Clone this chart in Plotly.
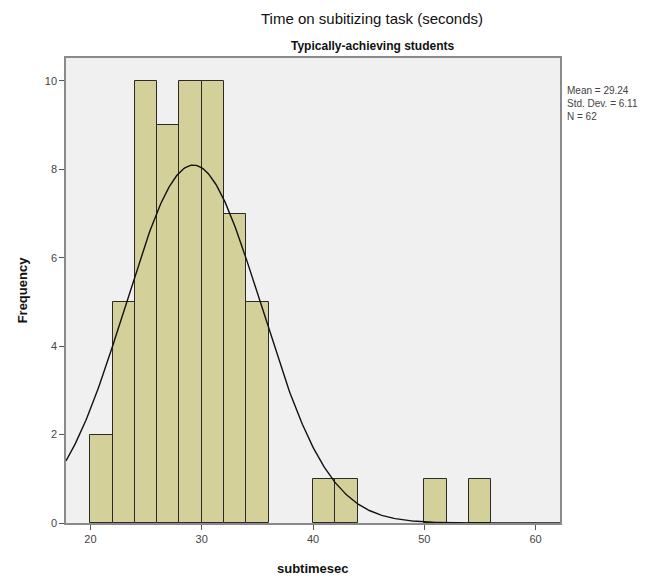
import numpy as np
import plotly.graph_objects as go

# Histogram bins (lower edge, seconds) and counts
bin_starts = [20, 22, 24, 26, 28, 30, 32, 34, 40, 42, 50, 54]
counts = [2, 5, 10, 9, 10, 10, 7, 5, 1, 1, 1, 1]
bin_width = 2

mean_val = 29.24
sd_val = 6.11
n_val = 62

x_ticks = [20, 30, 40, 50, 60]
y_ticks = [0, 2, 4, 6, 8, 10]

centers = [b + bin_width / 2 for b in bin_starts]

# fitted normal curve from the stated mean / SD / N
xs = np.linspace(17.8, 62.2, 400)
ys = n_val * bin_width / (sd_val * np.sqrt(2 * np.pi)) * np.exp(-0.5 * ((xs - mean_val) / sd_val) ** 2)

fig = go.Figure()
fig.add_trace(go.Bar(
    x=centers, y=counts, width=bin_width,
    marker=dict(color="#d4d09a", line=dict(color="#2a2a2a", width=1)),
    showlegend=False, hoverinfo="x+y",
))
fig.add_trace(go.Scatter(
    x=xs, y=ys, mode="lines",
    line=dict(color="#111111", width=1.4),
    showlegend=False, hoverinfo="skip",
))

axis_common = dict(
    showgrid=False, zeroline=False, showline=True, linecolor="#8a8a8a", linewidth=1.5,
    mirror=True, ticks="outside", ticklen=5, tickcolor="#555555",
    tickfont=dict(family="Liberation Sans, Arial", size=11, color="#444444"),
)

L, R, T, B = 66, 99, 58, 56
W, H = 659, 579

fig.update_layout(
    width=W, height=H,
    margin=dict(l=L, r=R, t=T, b=B),
    paper_bgcolor="white", plot_bgcolor="#f0f0f0",
    bargap=0,
    xaxis=dict(range=[17.8, 62.2], tickvals=x_ticks, **axis_common),
    yaxis=dict(range=[0, 10.52], tickvals=y_ticks, **axis_common,
               title=dict(text="<b>Frequency</b>", standoff=14,
                          font=dict(family="Liberation Sans, Arial", size=13, color="#111111"))),
)

pw = W - L - R
ph = H - T - B
def px(xp):
    return (xp - L) / pw
def py(yp):
    return (H - B - yp) / ph

anns = [
    dict(text="Time on subitizing task (seconds)", x=px(372), y=py(18), xref="paper", yref="paper",
         showarrow=False, xanchor="center", yanchor="middle",
         font=dict(family="Liberation Sans, Arial", size=15, color="#111111")),
    dict(text="<b>Typically-achieving students</b>", x=px(372), y=py(46), xref="paper", yref="paper",
         showarrow=False, xanchor="center", yanchor="middle",
         font=dict(family="Liberation Sans, Arial", size=12, color="#111111")),
    dict(text="<b>subtimesec</b>", x=px(313), y=py(568), xref="paper", yref="paper",
         showarrow=False, xanchor="center", yanchor="middle",
         font=dict(family="Liberation Sans, Arial", size=13, color="#111111")),
    dict(text="Mean = 29.24<br>Std. Dev. = 6.11<br>N = 62", x=px(565), y=py(83), xref="paper", yref="paper",
         showarrow=False, align="left", xanchor="left", yanchor="top",
         font=dict(family="Liberation Sans, Arial", size=10, color="#444444")),
]
fig.update_layout(annotations=anns)

fig.write_html("out.html")
